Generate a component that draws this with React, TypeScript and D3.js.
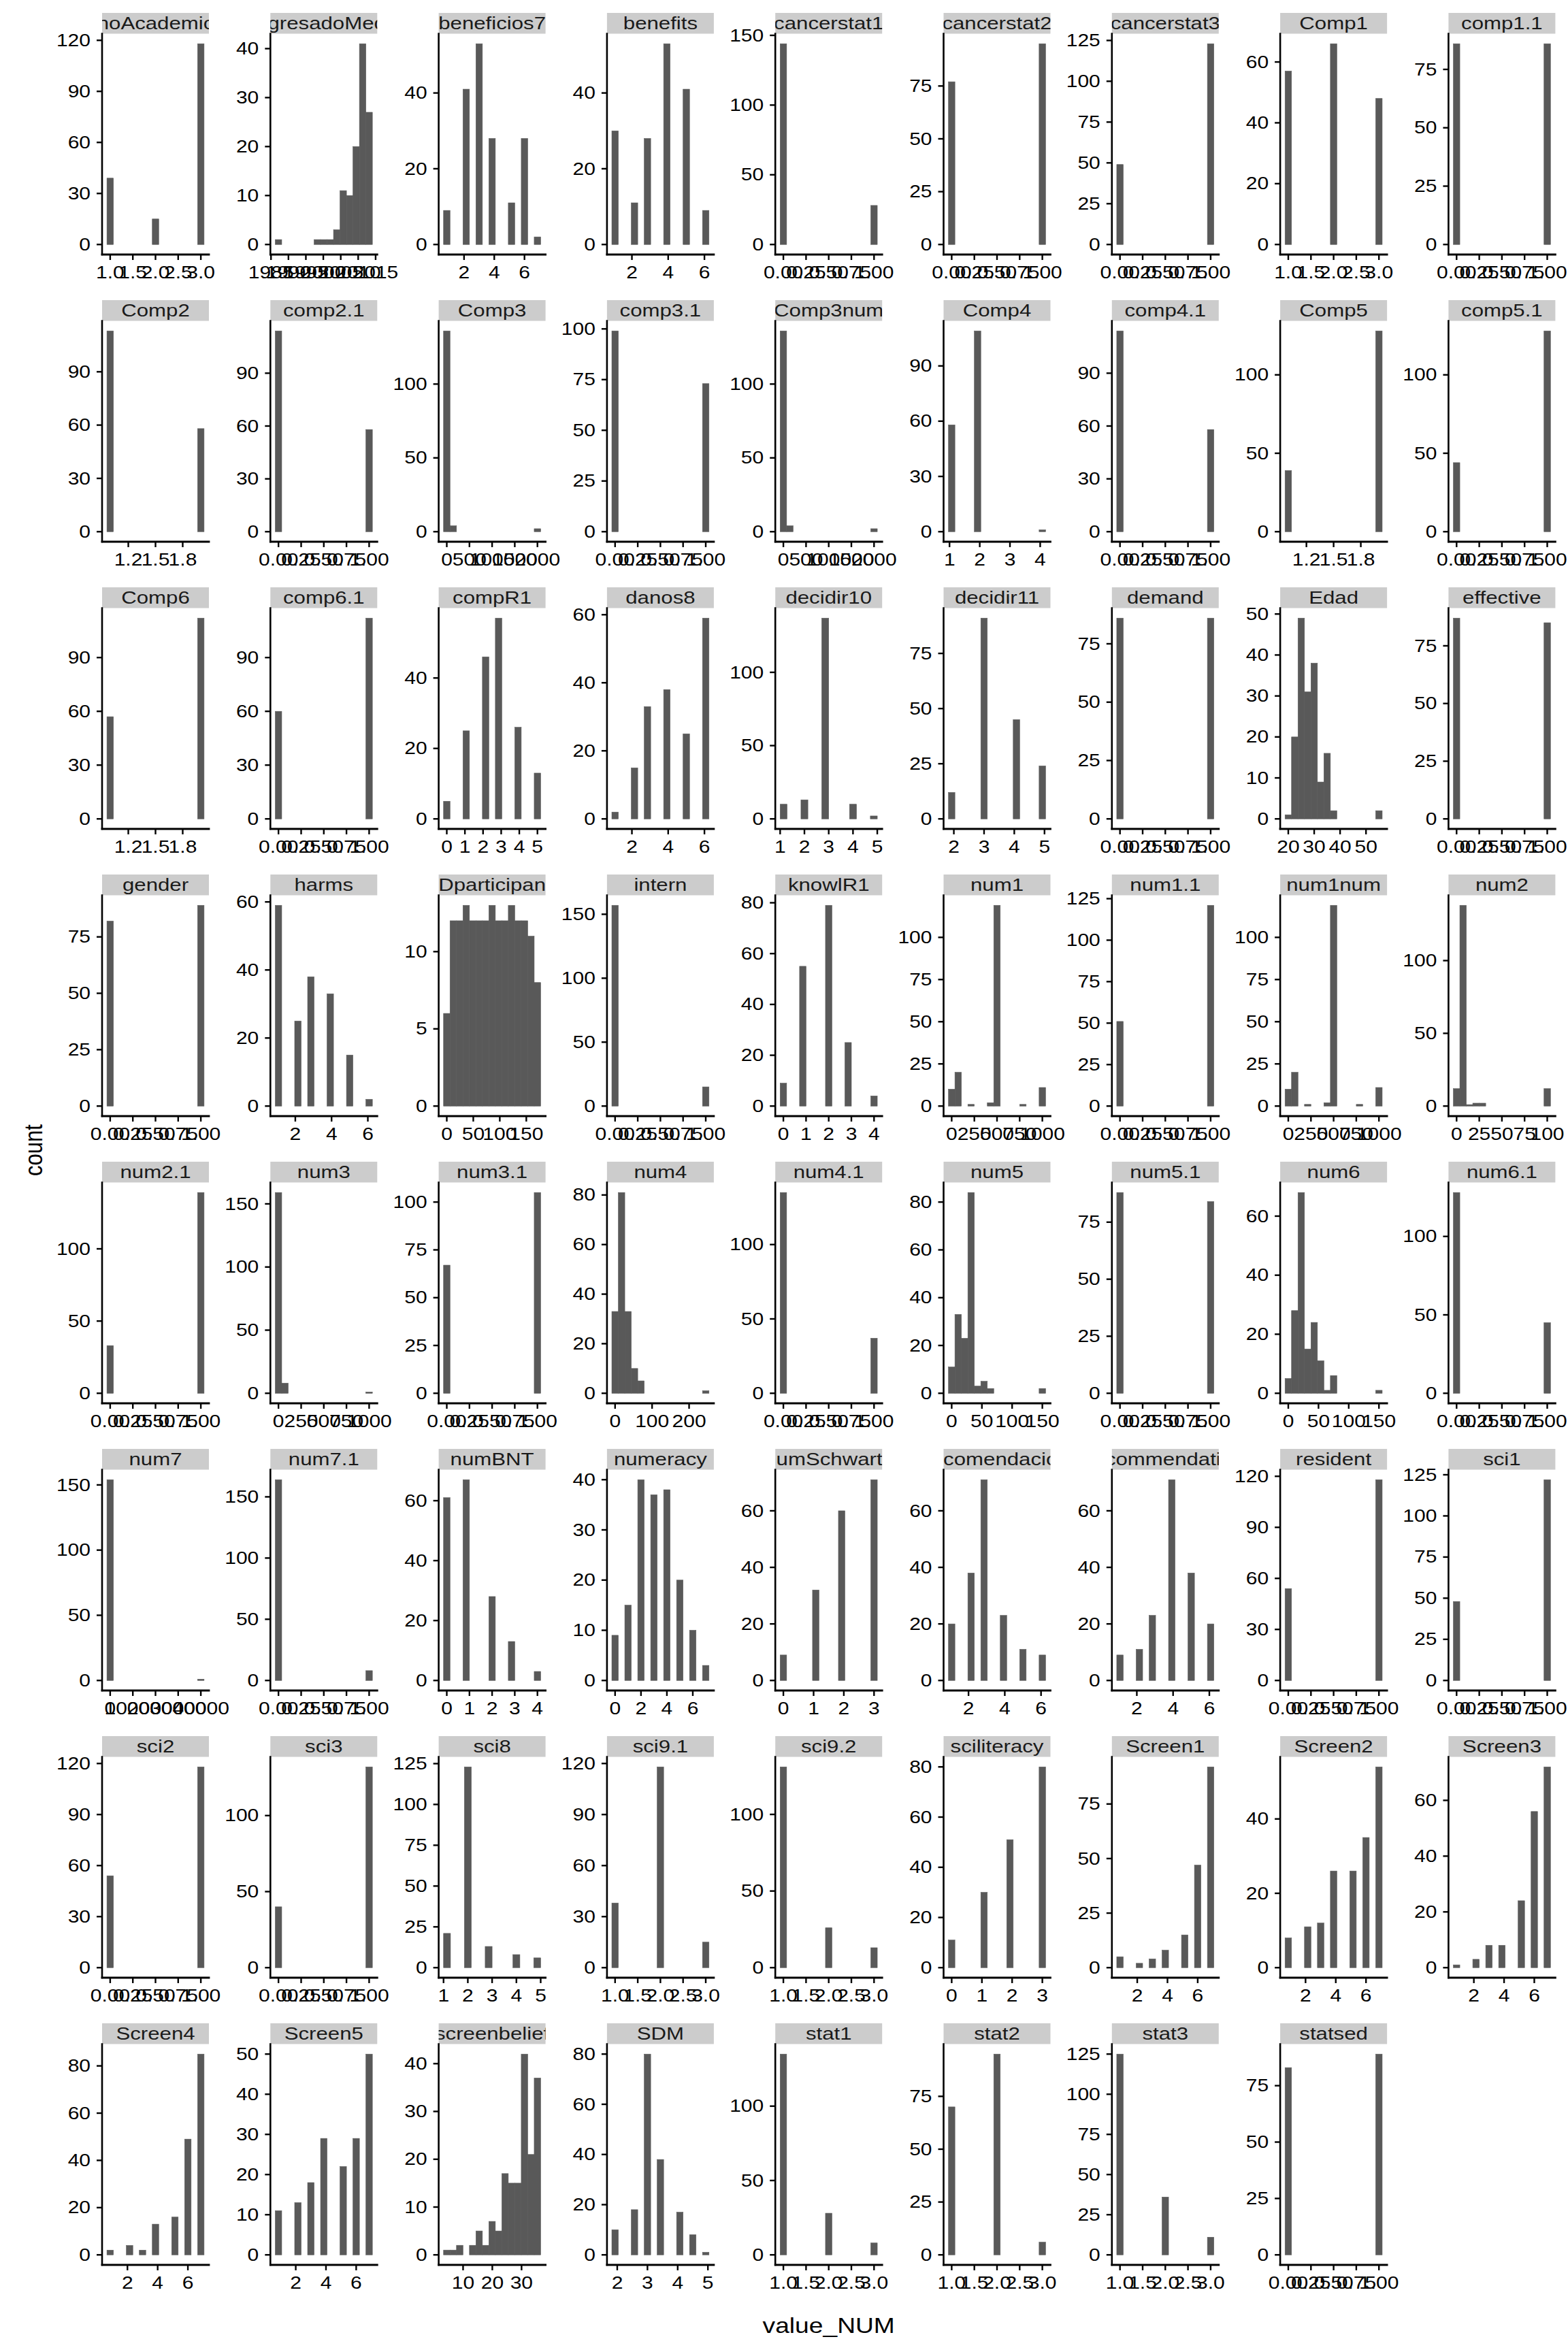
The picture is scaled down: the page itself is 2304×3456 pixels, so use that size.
import React from "react";
import * as d3 from "d3";

// facet names, in panel order (9 columns)
const panelNames = [
  "anoAcademico", "anoEgresadoMedicina", "beneficios7", "benefits", "cancerstat1", "cancerstat2", "cancerstat3", "Comp1", "comp1.1",
  "Comp2", "comp2.1", "Comp3", "comp3.1", "Comp3num", "Comp4", "comp4.1", "Comp5", "comp5.1",
  "Comp6", "comp6.1", "compR1", "danos8", "decidir10", "decidir11", "demand", "Edad", "effective",
  "gender", "harms", "IDparticipant", "intern", "knowlR1", "num1", "num1.1", "num1num", "num2",
  "num2.1", "num3", "num3.1", "num4", "num4.1", "num5", "num5.1", "num6", "num6.1",
  "num7", "num7.1", "numBNT", "numeracy", "numSchwartz", "recomendacion", "recommendation", "resident", "sci1",
  "sci2", "sci3", "sci8", "sci9.1", "sci9.2", "sciliteracy", "Screen1", "Screen2", "Screen3",
  "Screen4", "Screen5", "screenbelief", "SDM", "stat1", "stat2", "stat3", "statsed",
];

// observed values of value_NUM per facet
const panelValues: number[][] = [
  [1, 2, 3], [1987, 1998, 2000, 2002, 2004, 2006, 2008, 2009, 2011, 2013], [1, 2, 3, 4, 5, 6, 7], [1, 2, 3, 4, 5, 6],
  [0, 1], [0, 1], [0, 1], [1, 2, 3], [0, 1],
  [1, 2], [0, 1], [0, 100, 2000], [0, 1], [0, 100, 2000], [1, 2, 4], [0, 1], [1, 2], [0, 1],
  [1, 2], [0, 1], [0, 1, 2, 3, 4, 5], [1, 2, 3, 4, 5, 6], [1, 2, 3, 4, 5], [2, 3, 4, 5], [0, 1],
  [20, 22, 25, 27, 30, 32, 35, 37, 55], [0, 1],
  [0, 1], [1, 2, 3, 4, 5, 6], [1, 12, 24, 37, 49, 61, 73, 86, 98, 110, 122, 135, 147, 159, 172], [0, 1],
  [0, 1, 2, 3, 4], [0, 50, 200, 450, 500, 800, 1000], [0, 1], [0, 50, 200, 450, 500, 800, 1000], [0, 10, 15, 20, 30, 100],
  [0, 1], [0, 100, 1000], [0, 1], [0, 20, 35, 50, 70, 245], [0, 1], [0, 10, 20, 30, 40, 50, 60, 150], [0, 1],
  [0, 10, 20, 30, 40, 50, 60, 70, 150], [0, 1],
  [0, 40000], [0, 1], [0, 1, 2, 3, 4], [0, 1, 2, 3, 4, 5, 6, 7], [0, 1, 2, 3], [1, 2, 3, 4, 5, 6], [1, 2, 3, 4, 5, 6], [0, 1], [0, 1],
  [0, 1], [0, 1], [1, 2, 3, 4, 5], [1, 2, 3], [1, 2, 3], [0, 1, 2, 3], [1, 2, 3, 4, 5, 6, 7], [1, 2, 3, 4, 5, 6, 7], [1, 2, 3, 4, 5, 6, 7],
  [1, 2, 3, 4, 5, 6, 7], [1, 2, 3, 4, 5, 6, 7], [5, 6, 8, 13, 15, 17, 20, 22, 24, 26, 28, 30, 33, 36],
  [2, 2.5, 3, 3.5, 4, 4.5, 5], [1, 2, 3], [1, 2, 3], [1, 2, 3], [0, 1],
];

// how many rows have each value
const panelCounts: number[][] = [
  [39, 15, 118], [1, 1, 1, 1, 3, 11, 10, 20, 41, 27], [9, 41, 53, 28, 11, 28, 2], [30, 11, 28, 53, 41, 9],
  [144, 28], [77, 95], [49, 123], [57, 66, 48], [86, 86],
  [113, 58], [114, 58], [136, 4, 2], [99, 73], [136, 4, 2], [58, 109, 1], [114, 58], [39, 128], [44, 128],
  [57, 112], [60, 112], [5, 25, 46, 57, 26, 13], [2, 15, 33, 38, 25, 59], [10, 13, 137, 10, 2], [12, 91, 45, 24], [86, 86],
  [1, 20, 49, 31, 38, 9, 16, 2, 2], [87, 85],
  [82, 89], [59, 25, 38, 33, 15, 2], [6, 12, 12, 13, 12, 12, 12, 13, 12, 12, 13, 12, 12, 11, 8], [157, 15],
  [9, 55, 79, 25, 4], [10, 20, 1, 2, 119, 1, 11], [51, 121], [10, 20, 1, 2, 119, 1, 11], [12, 138, 1, 2, 2, 12],
  [33, 139], [159, 8, 1], [67, 105], [33, 81, 33, 10, 5, 1], [135, 37], [11, 33, 23, 84, 3, 5, 2, 2], [88, 84],
  [5, 28, 68, 15, 24, 11, 1, 6, 1], [128, 45],
  [154, 1], [164, 8], [61, 67, 28, 13, 3], [9, 15, 40, 37, 38, 20, 10, 3], [9, 32, 60, 71], [20, 38, 71, 23, 11, 9],
  [9, 11, 23, 71, 38, 20], [54, 118], [48, 122],
  [54, 118], [40, 132], [21, 123, 13, 8, 6], [38, 118, 15], [131, 26, 13], [11, 30, 51, 80], [5, 2, 4, 8, 15, 47, 92],
  [8, 11, 12, 26, 26, 35, 54], [1, 3, 8, 8, 24, 56, 72],
  [2, 4, 2, 13, 16, 49, 85], [11, 13, 18, 29, 22, 29, 50], [1, 1, 2, 2, 5, 2, 7, 5, 17, 15, 15, 42, 21, 37],
  [10, 18, 80, 38, 17, 8, 1], [135, 28, 8], [70, 95, 6], [125, 36, 11], [83, 89],
];

// tick labels
const t01 = ["0.00", "0.25", "0.50", "0.75", "1.00"];
const t13 = ["1.0", "1.5", "2.0", "2.5", "3.0"];
const t12 = ["1.2", "1.5", "1.8"];
const t246 = ["2", "4", "6"];
const t1000 = ["0", "250", "500", "750", "1000"];
const t150 = ["0", "50", "100", "150"];
const t2000 = ["0", "500", "1000", "1500", "2000"];
const xTickLabels: string[][] = [
  t13, ["1985", "1990", "1995", "2000", "2005", "2010", "2015"], t246, t246, t01, t01, t01, t13, t01,
  t12, t01, t2000, t01, t2000, ["1", "2", "3", "4"], t01, t12, t01,
  t12, t01, ["0", "1", "2", "3", "4", "5"], t246, ["1", "2", "3", "4", "5"], ["2", "3", "4", "5"], t01, ["20", "30", "40", "50"], t01,
  t01, t246, t150, t01, ["0", "1", "2", "3", "4"], t1000, t01, t1000, ["0", "25", "50", "75", "100"],
  t01, t1000, t01, ["0", "100", "200"], t01, t150, t01, t150, t01,
  ["0", "10000", "20000", "30000", "40000"], t01, ["0", "1", "2", "3", "4"], ["0", "2", "4", "6"], ["0", "1", "2", "3"], t246, t246, t01, t01,
  t01, t01, ["1", "2", "3", "4", "5"], t13, t13, ["0", "1", "2", "3"], t246, t246, t246,
  t246, t246, ["10", "20", "30"], ["2", "3", "4", "5"], t13, t13, t13, t01,
];

const yTickValues: number[][] = [
  [0, 30, 60, 90, 120], [0, 10, 20, 30, 40], [0, 20, 40], [0, 20, 40], [0, 50, 100, 150], [0, 25, 50, 75], [0, 25, 50, 75, 100, 125], [0, 20, 40, 60], [0, 25, 50, 75],
  [0, 30, 60, 90], [0, 30, 60, 90], [0, 50, 100], [0, 25, 50, 75, 100], [0, 50, 100], [0, 30, 60, 90], [0, 30, 60, 90], [0, 50, 100], [0, 50, 100],
  [0, 30, 60, 90], [0, 30, 60, 90], [0, 20, 40], [0, 20, 40, 60], [0, 50, 100], [0, 25, 50, 75], [0, 25, 50, 75], [0, 10, 20, 30, 40, 50], [0, 25, 50, 75],
  [0, 25, 50, 75], [0, 20, 40, 60], [0, 5, 10], [0, 50, 100, 150], [0, 20, 40, 60, 80], [0, 25, 50, 75, 100], [0, 25, 50, 75, 100, 125], [0, 25, 50, 75, 100], [0, 50, 100],
  [0, 50, 100], [0, 50, 100, 150], [0, 25, 50, 75, 100], [0, 20, 40, 60, 80], [0, 50, 100], [0, 20, 40, 60, 80], [0, 25, 50, 75], [0, 20, 40, 60], [0, 50, 100],
  [0, 50, 100, 150], [0, 50, 100, 150], [0, 20, 40, 60], [0, 10, 20, 30, 40], [0, 20, 40, 60], [0, 20, 40, 60], [0, 20, 40, 60], [0, 30, 60, 90, 120], [0, 25, 50, 75, 100, 125],
  [0, 30, 60, 90, 120], [0, 50, 100], [0, 25, 50, 75, 100, 125], [0, 30, 60, 90, 120], [0, 50, 100], [0, 20, 40, 60, 80], [0, 25, 50, 75], [0, 20, 40], [0, 20, 40, 60],
  [0, 20, 40, 60, 80], [0, 10, 20, 30, 40, 50], [0, 10, 20, 30, 40], [0, 20, 40, 60, 80], [0, 50, 100], [0, 25, 50, 75], [0, 25, 50, 75, 100, 125], [0, 25, 50, 75],
];

const W = 2304;
const H = 3456;
const NCOL = 9;
const colX0 = 150;
const colPitch = 247.3;
const panelW = 157;
const rowY0 = 19;
const rowPitch = 422;
const stripH = 30.5;
const panelH = 324.5;
const SX = 1.2; // the picture is stretched sideways, text too
const FONT = '"Liberation Sans", Arial, Helvetica, sans-serif';
const BAR = "#595959";

// same bins as ggplot2 stat_bin(bins = 15)
function ggBins(values: number[], counts: number[]) {
  const lo = d3.min(values) as number;
  const hi = d3.max(values) as number;
  const width = (hi - lo) / 14;
  const boundary = width / 2;
  const shift = Math.floor((lo - boundary) / width);
  const origin = boundary + shift * width;
  const maxX = hi + (1 - 1e-8) * width;
  const n = Math.floor((maxX - origin) / width + 1e-10);
  const breaks = d3.range(n + 1).map((k) => Math.min(origin + k * width, maxX));
  const fuzz = 1e-8 * (d3.median(d3.pairs(breaks, (a, b) => b - a)) as number);
  const fuzzy = breaks.map((b, i) => (i === 0 ? b - fuzz : b + fuzz));
  const bins = d3.pairs(breaks, (a, b) => ({ x0: a, x1: b, count: 0 }));
  values.forEach((v, i) => {
    let k = bins.findIndex((_, j) => v <= fuzzy[j + 1]);
    if (k < 0) k = bins.length - 1;
    bins[k].count += counts[i];
  });
  return bins;
}

function Panel({ i }: { i: number }) {
  const c = i % NCOL;
  const r = Math.floor(i / NCOL);
  const left = colX0 + c * colPitch;
  const right = left + panelW;
  const sTop = rowY0 + r * rowPitch;
  const top = sTop + stripH;
  const bottom = top + panelH;

  const bins = ggBins(panelValues[i], panelCounts[i]);
  const b0 = bins[0].x0;
  const bn = bins[bins.length - 1].x1;
  const span = bn - b0;
  const x = d3.scaleLinear().domain([b0 - 0.05 * span, bn + 0.05 * span]).range([left, right]);
  const maxC = d3.max(bins, (b) => b.count) as number;
  const y = d3.scaleLinear().domain([-0.05 * maxC, 1.05 * maxC]).range([bottom, top]);

  const [dx0, dx1] = x.domain();
  const xt = xTickLabels[i].filter((s) => +s >= dx0 && +s <= dx1);
  const yt = yTickValues[i].filter((v) => v <= 1.05 * maxC);

  return (
    <g>
      <rect x={left} y={sTop} width={panelW} height={stripH} fill="#cccccc" />
      <g clipPath={`url(#strip${i})`}>
        <text
          transform={`translate(${left + panelW / 2},${sTop + stripH / 2}) scale(${SX},1)`}
          textAnchor="middle"
          dominantBaseline="central"
          fontSize={26}
          fill="#1a1a1a"
        >
          {panelNames[i]}
        </text>
      </g>
      {bins
        .filter((b) => b.count > 0)
        .map((b, k) => (
          <rect
            key={k}
            x={x(b.x0)}
            y={y(b.count)}
            width={x(b.x1) - x(b.x0)}
            height={y(0) - y(b.count)}
            fill={BAR}
            stroke={BAR}
            strokeWidth={0.6}
          />
        ))}
      {yt.map((v) => (
        <g key={"y" + v}>
          <line x1={left - 8} x2={left} y1={y(v)} y2={y(v)} stroke="#000" strokeWidth={2.4} />
          <text
            transform={`translate(${left - 17},${y(v)}) scale(${SX},1)`}
            textAnchor="end"
            dominantBaseline="central"
            fontSize={25}
            fill="#000"
          >
            {v}
          </text>
        </g>
      ))}
      {xt.map((s) => (
        <g key={"x" + s}>
          <line x1={x(+s)} x2={x(+s)} y1={bottom} y2={bottom + 8} stroke="#000" strokeWidth={2.4} />
          <text
            transform={`translate(${x(+s)},${bottom + 35}) scale(${SX},1)`}
            textAnchor="middle"
            fontSize={25}
            fill="#000"
          >
            {s}
          </text>
        </g>
      ))}
      <line x1={left} x2={left} y1={top} y2={bottom} stroke="#000" strokeWidth={2.6} strokeLinecap="square" />
      <line x1={left} x2={right} y1={bottom} y2={bottom} stroke="#000" strokeWidth={2.8} strokeLinecap="square" />
    </g>
  );
}

export default function App() {
  const idx = d3.range(panelNames.length);
  const lastRight = colX0 + (NCOL - 1) * colPitch + panelW;
  return (
    <svg
      width={W}
      height={H}
      viewBox={`0 0 ${W} ${H}`}
      fontFamily={FONT}
      style={{ position: "absolute", left: 0, top: 0, display: "block" }}
    >
      <rect width={W} height={H} fill="#ffffff" />
      <defs>
        {idx.map((i) => (
          <clipPath id={`strip${i}`} key={i}>
            <rect
              x={colX0 + (i % NCOL) * colPitch}
              y={rowY0 + Math.floor(i / NCOL) * rowPitch}
              width={panelW}
              height={stripH}
            />
          </clipPath>
        ))}
      </defs>
      {idx.map((i) => (
        <Panel key={i} i={i} />
      ))}
      <text
        transform={`translate(${(colX0 + lastRight) / 2},3428) scale(${SX},1)`}
        textAnchor="middle"
        fontSize={31}
        fill="#000"
      >
        value_NUM
      </text>
      <text
        transform={`translate(62,1690) scale(${SX},1) rotate(-90)`}
        textAnchor="middle"
        fontSize={31}
        fill="#000"
      >
        count
      </text>
    </svg>
  );
}
